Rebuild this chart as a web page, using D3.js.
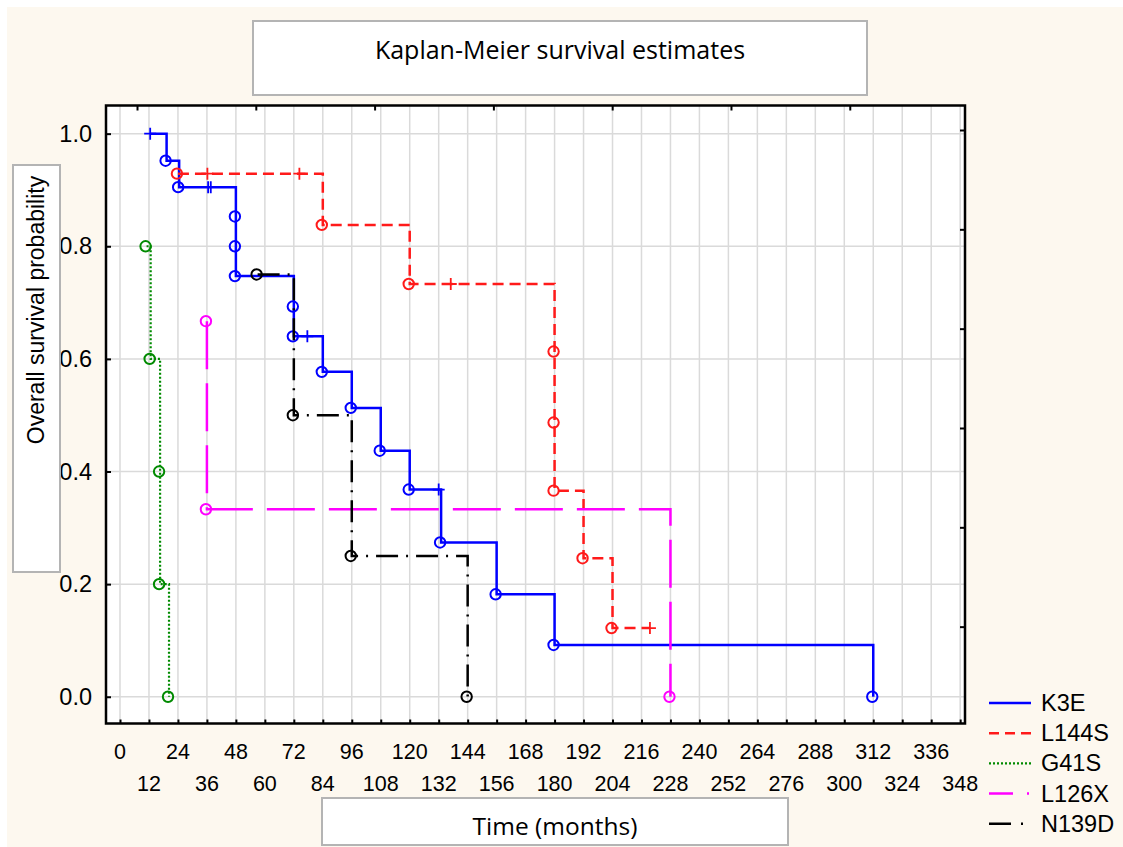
<!DOCTYPE html>
<html>
<head>
<meta charset="utf-8">
<script src="https://cdn.jsdelivr.net/npm/d3@7"></script>
<style>
  body { margin: 0; background: #ffffff; }
  svg { display: block; }
</style>
</head>
<body>
<svg id="chart" width="1123" height="847"></svg>
<script>
// ---- Kaplan-Meier data: observation time (months), survival after that time, status (1 = death, 0 = censored)
const groups = ["K3E", "L144S", "G41S", "L126X", "N139D"];

const k3eTime   = [12.5, 19.3, 24.5, 36.5, 37.6, 48, 48, 48, 72, 72, 77.6, 84, 96, 108, 120, 132, 133, 156, 180, 312];
const k3eSurv   = [1.0, 0.952, 0.905, 0.905, 0.905, 0.853, 0.800, 0.747, 0.693, 0.640, 0.640, 0.577, 0.513, 0.437, 0.368, 0.368, 0.274, 0.182, 0.092, 0.0];
const k3eStatus = [0, 1, 1, 0, 0, 1, 1, 1, 1, 1, 0, 1, 1, 1, 1, 0, 1, 1, 1, 1];

const l144sTime   = [24, 36.2, 74.3, 84, 120, 137, 180, 180, 180, 192, 204, 219.5];
const l144sSurv   = [0.929, 0.929, 0.929, 0.838, 0.733, 0.733, 0.613, 0.487, 0.366, 0.246, 0.122, 0.122];
const l144sStatus = [1, 0, 0, 1, 1, 0, 1, 1, 1, 1, 1, 0];

const g41sTime   = [11, 12.7, 16.6, 16.6, 20.3];
const g41sSurv   = [0.8, 0.6, 0.4, 0.2, 0.0];
const g41sStatus = [1, 1, 1, 1, 1];

const l126xTime   = [36, 36, 228];
const l126xSurv   = [0.667, 0.333, 0.0];
const l126xStatus = [1, 1, 1];

const n139dTime   = [57, 72, 96, 144];
const n139dSurv   = [0.75, 0.5, 0.25, 0.0];
const n139dStatus = [1, 1, 1, 1];

const xTicks = d3.range(0, 349, 12);
const yTicks = [0, 0.2, 0.4, 0.6, 0.8, 1.0];

// ---- styling per group
const colors  = ["#0000ff", "#ff1a1a", "#008a00", "#ff00ff", "#000000"];
const dashes  = [null, "11,6", "2,2", "48,14", "22,8,2,8"];
const legendDashes = [null, "10,6", "2,2", "24,14,2,10", "22,10,2,10"];
const widths  = [2.5, 2.5, 2.2, 2.5, 2.5];

const series = [
  {time: k3eTime,   surv: k3eSurv,   status: k3eStatus},
  {time: l144sTime, surv: l144sSurv, status: l144sStatus},
  {time: g41sTime,  surv: g41sSurv,  status: g41sStatus},
  {time: l126xTime, surv: l126xSurv, status: l126xStatus},
  {time: n139dTime, surv: n139dSurv, status: n139dStatus}
].map((s, i) => ({
  name: groups[i], color: colors[i], dash: dashes[i], width: widths[i],
  points: s.time.map((t, j) => ({t: t, s: s.surv[j], event: s.status[j] === 1}))
}));

// ---- layout
const W = 1123, H = 847;
const plot = {left: 106, top: 105.5, right: 965, bottom: 723.5};
const svg = d3.select("#chart");

const x = d3.scaleLinear().domain([-5.8, 350]).range([plot.left, plot.right]);
const y = d3.scaleLinear().domain([-0.0475, 1.05]).range([plot.bottom, plot.top]);

const fontAxis = "'Liberation Sans', Arial, sans-serif";
const fontTitle = "'Open Sans', sans-serif";

// page background
svg.append("rect").attr("x", 0).attr("y", 0).attr("width", W).attr("height", H).attr("fill", "#ffffff");
svg.append("rect").attr("x", 7).attr("y", 7).attr("width", W - 7).attr("height", H - 7).attr("fill", "#fdf8ef");

// title box
svg.append("rect").attr("x", 253).attr("y", 21).attr("width", 614).attr("height", 74)
  .attr("fill", "#ffffff").attr("stroke", "#b4b4b4").attr("stroke-width", 2);
svg.append("text").attr("x", 560).attr("y", 59).attr("text-anchor", "middle")
  .attr("font-family", fontTitle).attr("font-size", 25).attr("fill", "#000")
  .text("Kaplan-Meier survival estimates");

// plot area
svg.append("rect").attr("x", plot.left).attr("y", plot.top)
  .attr("width", plot.right - plot.left).attr("height", plot.bottom - plot.top).attr("fill", "#ffffff");

// grid
const grid = svg.append("g").attr("stroke", "#dadada").attr("stroke-width", 1.5);
grid.selectAll("line.v").data(xTicks).join("line").attr("class", "v")
  .attr("x1", d => x(d)).attr("x2", d => x(d)).attr("y1", plot.top).attr("y2", plot.bottom);
grid.selectAll("line.h").data(yTicks).join("line").attr("class", "h")
  .attr("x1", plot.left).attr("x2", plot.right).attr("y1", d => y(d)).attr("y2", d => y(d));

// survival curves
const line = d3.line().x(d => x(d.t)).y(d => y(d.s)).curve(d3.curveStepAfter);
const curves = svg.append("g");
series.forEach(s => {
  const g = curves.append("g");
  g.append("path").attr("d", line(s.points)).attr("fill", "none")
    .attr("stroke", s.color).attr("stroke-width", s.width)
    .attr("stroke-dasharray", s.dash);
  g.selectAll("circle").data(s.points.filter(p => p.event)).join("circle")
    .attr("cx", p => x(p.t) - 1).attr("cy", p => y(p.s)).attr("r", 5.2)
    .attr("fill", "none").attr("stroke", s.color).attr("stroke-width", 2);
  g.selectAll("path.cens").data(s.points.filter(p => !p.event)).join("path").attr("class", "cens")
    .attr("d", p => { const cx = x(p.t), cy = y(p.s); return `M${cx - 6},${cy}H${cx + 6}M${cx},${cy - 6}V${cy + 6}`; })
    .attr("stroke", s.color).attr("stroke-width", 1.8).attr("fill", "none");
});

// axes (ticks inside the frame)
const xAxis = svg.append("g").attr("transform", `translate(0,${plot.bottom})`)
  .call(d3.axisBottom(x).tickValues(xTicks).tickSizeInner(-4).tickSizeOuter(0).tickFormat(""));
xAxis.select(".domain").remove();
xAxis.selectAll(".tick line").attr("stroke", "#000").attr("stroke-width", 2);

// staggered tick labels: even ticks on the first row, odd ticks on the second
svg.append("g").selectAll("text").data(xTicks).join("text")
  .attr("x", d => x(d)).attr("y", (d, i) => i % 2 === 0 ? 759 : 791)
  .attr("text-anchor", "middle").attr("font-family", fontAxis).attr("font-size", 21.5).attr("fill", "#000")
  .text(d => d);

const yAxis = svg.append("g").attr("transform", `translate(${plot.left},0)`)
  .call(d3.axisLeft(y).tickValues(yTicks).tickSizeInner(-5).tickSizeOuter(0)
    .tickFormat(d3.format(".1f")));
yAxis.select(".domain").remove();
yAxis.selectAll(".tick line").attr("stroke", "#000").attr("stroke-width", 2);
yAxis.selectAll(".tick text").attr("font-family", fontAxis).attr("font-size", 23.5).attr("fill", "#000")
  .attr("x", -14);

// secondary top / right ticks
const x2 = d3.scaleLinear().domain([-0.261, 6.97]).range([plot.left, plot.right]);
const topAxis = svg.append("g").attr("transform", `translate(0,${plot.top})`)
  .call(d3.axisTop(x2).tickValues(d3.range(0, 7)).tickSizeInner(-5).tickSizeOuter(0).tickFormat(""));
topAxis.select(".domain").remove();
topAxis.selectAll(".tick line").attr("stroke", "#000").attr("stroke-width", 2);

const y2 = d3.scaleLinear().domain([-0.2466, 5.975]).range([plot.top, plot.bottom]);
const rightAxis = svg.append("g").attr("transform", `translate(${plot.right},0)`)
  .call(d3.axisRight(y2).tickValues(d3.range(0, 6)).tickSizeInner(-5).tickSizeOuter(0).tickFormat(""));
rightAxis.select(".domain").remove();
rightAxis.selectAll(".tick line").attr("stroke", "#000").attr("stroke-width", 2);

// frame
svg.append("rect").attr("x", plot.left).attr("y", plot.top)
  .attr("width", plot.right - plot.left).attr("height", plot.bottom - plot.top)
  .attr("fill", "none").attr("stroke", "#000").attr("stroke-width", 2.5);

// y axis title box
svg.append("rect").attr("x", 13).attr("y", 165).attr("width", 47).attr("height", 407)
  .attr("fill", "#ffffff").attr("stroke", "#b4b4b4").attr("stroke-width", 2);
svg.append("text").attr("transform", "translate(44,310) rotate(-90)").attr("text-anchor", "middle")
  .attr("font-family", fontAxis).attr("font-size", 23).attr("fill", "#000")
  .text("Overall survival probability");

// x axis title box
svg.append("rect").attr("x", 322).attr("y", 798).attr("width", 466).attr("height", 47)
  .attr("fill", "#ffffff").attr("stroke", "#b4b4b4").attr("stroke-width", 2);
svg.append("text").attr("x", 555).attr("y", 835).attr("text-anchor", "middle")
  .attr("font-family", fontTitle).attr("font-size", 24.5).attr("fill", "#000")
  .text("Time (months)");

// legend
const legend = svg.append("g");
series.forEach((s, i) => {
  const ly = 703 + i * 30.2;
  legend.append("line").attr("x1", 989).attr("x2", 1031).attr("y1", ly).attr("y2", ly)
    .attr("stroke", s.color).attr("stroke-width", s.width).attr("stroke-dasharray", legendDashes[i]);
  legend.append("text").attr("x", 1041).attr("y", ly + 8).attr("font-family", fontAxis)
    .attr("font-size", 23.5).attr("fill", "#000").text(s.name);
});
</script>
</body>
</html>
